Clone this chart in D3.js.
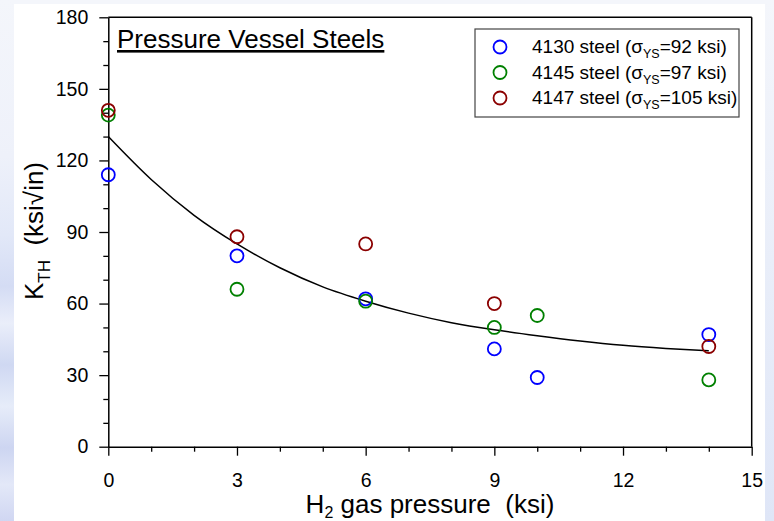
<!DOCTYPE html>
<html>
<head>
<meta charset="utf-8">
<script src="https://cdn.jsdelivr.net/npm/d3@7"></script>
<style>
  html, body { margin: 0; padding: 0; background: #f4f6fb; }
  svg { display: block; font-family: "Liberation Sans", Arial, sans-serif; }
  text { white-space: pre; }
</style>
</head>
<body>
<svg id="chart" width="774" height="521"></svg>
<script>
// ---- Data ----
const seriesNames = ["4130 steel", "4145 steel", "4147 steel"];
const seriesYield = ["92", "97", "105"];
const seriesColors = ["#0000ff", "#008000", "#8b0000"];

const steel4130X = [0, 3, 6, 9, 10, 14];
const steel4130Y = [114, 80, 62, 41, 29, 47];
const steel4145X = [0, 3, 6, 9, 10, 14];
const steel4145Y = [139, 66, 61, 50, 55, 28];
const steel4147X = [0, 3, 6, 9, 14];
const steel4147Y = [141, 88, 85, 60, 42];

// trend curve
const fitX = [0, 1, 2, 3, 4, 5, 6, 7, 8, 9, 10, 11, 12, 13, 14];
const fitY = [130, 112, 97, 85, 75, 67, 61, 56, 52, 49, 46.5, 44.3, 42.5, 41.2, 40.2];

const xTicks = [0, 3, 6, 9, 12, 15];
const xMinorTicks = [1, 2, 4, 5, 7, 8, 10, 11, 13, 14];
const yTicks = [0, 30, 60, 90, 120, 150, 180];
const yMinorTicks = [10, 20, 40, 50, 70, 80, 100, 110, 130, 140, 160, 170];

const titleText = "Pressure Vessel Steels";

// ---- Drawing ----
(function () {
const svg = d3.select("#chart");
const W = 774, H = 521;

// background decoration
const defs = svg.append("defs");
const lg = defs.append("linearGradient").attr("id", "leftStrip").attr("x1", 0).attr("y1", 0).attr("x2", 0).attr("y2", 1);
[["0", "#f4f6fb"], ["0.3", "#eef1fa"], ["0.45", "#e2e8f8"], ["0.55", "#d4dcf4"], ["0.62", "#eaeefa"],
 ["0.7", "#cfd8f2"], ["0.78", "#e6ecf9"], ["0.86", "#cdd5f1"], ["0.93", "#e3e8f8"], ["1", "#d0d6f2"]]
  .forEach(s => lg.append("stop").attr("offset", s[0]).attr("stop-color", s[1]));
const rg = defs.append("linearGradient").attr("id", "rightStrip").attr("x1", 0).attr("y1", 0).attr("x2", 0).attr("y2", 1);
[["0", "#f4f6fb"], ["0.5", "#e9eef9"], ["1", "#dfe6f7"]]
  .forEach(s => rg.append("stop").attr("offset", s[0]).attr("stop-color", s[1]));

svg.append("rect").attr("x", 0).attr("y", 0).attr("width", W).attr("height", H).attr("fill", "#f4f6fb");
svg.append("rect").attr("x", 0).attr("y", 0).attr("width", 14).attr("height", H).attr("fill", "url(#leftStrip)");
svg.append("rect").attr("x", 765).attr("y", 0).attr("width", 9).attr("height", H).attr("fill", "url(#rightStrip)");
svg.append("rect").attr("x", 14).attr("y", 4).attr("width", 751).attr("height", H - 4).attr("fill", "#ffffff");

const pl = 108.3, pr = 751.7, pt = 17.3, pb = 446.7;
const x = d3.scaleLinear().domain([0, 15]).range([pl, pr]);
const y = d3.scaleLinear().domain([0, 180]).range([pb, pt]);

// frame (top and right)
svg.append("line").attr("x1", pl).attr("x2", pr).attr("y1", pt).attr("y2", pt)
  .attr("stroke", "#000").attr("stroke-width", 1.5);
svg.append("line").attr("x1", pr).attr("x2", pr).attr("y1", pt).attr("y2", pb)
  .attr("stroke", "#000").attr("stroke-width", 1.5);

// x axis
const xAxis = svg.append("g").attr("transform", `translate(0,${pb})`)
  .call(d3.axisBottom(x).tickValues(xTicks).tickFormat(d3.format("d")).tickSize(9).tickPadding(17).tickSizeOuter(0));
const xMinor = svg.append("g").attr("transform", `translate(0,${pb})`)
  .call(d3.axisBottom(x).tickValues(xMinorTicks).tickFormat("").tickSize(5).tickSizeOuter(0));
xMinor.select(".domain").remove();

// y axis
const yAxis = svg.append("g").attr("transform", `translate(${pl},0)`)
  .call(d3.axisLeft(y).tickValues(yTicks).tickFormat(d3.format("d")).tickSize(9).tickPadding(11).tickSizeOuter(0));
const yMinor = svg.append("g").attr("transform", `translate(${pl},0)`)
  .call(d3.axisLeft(y).tickValues(yMinorTicks).tickFormat("").tickSize(5).tickSizeOuter(0));
yMinor.select(".domain").remove();

[xAxis, yAxis, xMinor, yMinor].forEach(g => {
  g.selectAll("path.domain").attr("stroke", "#000").attr("stroke-width", 1.5);
  g.selectAll(".tick line").attr("stroke", "#000").attr("stroke-width", 1.3);
  g.selectAll(".tick text").attr("fill", "#000").attr("font-size", 19.5)
    .attr("font-family", "'Liberation Sans', Arial, sans-serif");
});

// fit curve
const fitData = fitX.map((v, i) => [v, fitY[i]]);
svg.append("path").datum(fitData)
  .attr("fill", "none").attr("stroke", "#000").attr("stroke-width", 1.5)
  .attr("d", d3.line().x(d => x(d[0])).y(d => y(d[1])).curve(d3.curveMonotoneX));

// points
const allSeries = [
  { xs: steel4130X, ys: steel4130Y },
  { xs: steel4145X, ys: steel4145Y },
  { xs: steel4147X, ys: steel4147Y }
];
allSeries.forEach((s, si) => {
  svg.append("g").selectAll("circle").data(s.xs.map((v, i) => [v, s.ys[i]])).join("circle")
    .attr("cx", d => x(d[0])).attr("cy", d => y(d[1])).attr("r", 6.5)
    .attr("fill", "none").attr("stroke", seriesColors[si]).attr("stroke-width", 1.8);
});

// title
svg.append("text").attr("x", 117).attr("y", 48).attr("font-size", 26)
  .attr("text-decoration", "underline").attr("fill", "#000").text(titleText);

// legend
const legX = 475, legY = 29, legW = 264, legH = 88;
svg.append("rect").attr("x", legX).attr("y", legY).attr("width", legW).attr("height", legH)
  .attr("fill", "#fff").attr("stroke", "#444").attr("stroke-width", 1.2);
seriesNames.forEach((name, i) => {
  const cy = 47 + i * 25.5;
  svg.append("circle").attr("cx", 500).attr("cy", cy).attr("r", 6.5)
    .attr("fill", "none").attr("stroke", seriesColors[i]).attr("stroke-width", 1.8);
  const t = svg.append("text").attr("x", 532).attr("y", cy + 6).attr("font-size", 19).attr("fill", "#000");
  t.append("tspan").text(name + " (\u03C3");
  t.append("tspan").attr("font-size", 12.5).attr("dy", 5).text("YS");
  t.append("tspan").attr("dy", -5).text("=" + seriesYield[i] + " ksi)");
});

// axis titles
const xt = svg.append("text").attr("x", (pl + pr) / 2).attr("y", 513)
  .attr("text-anchor", "middle").attr("font-size", 26).attr("fill", "#000");
xt.append("tspan").text("H");
xt.append("tspan").attr("font-size", 16).attr("dy", 5).text("2");
xt.append("tspan").attr("dy", -5).text(" gas pressure  (ksi)");

const yt = svg.append("text").attr("transform", "translate(43,231) rotate(-90)")
  .attr("text-anchor", "middle").attr("font-size", 26).attr("fill", "#000");
yt.append("tspan").text("K");
yt.append("tspan").attr("font-size", 17).attr("dy", 7).text("TH");
yt.append("tspan").attr("dy", -7).text("  (ksi\u221Ain)");
})();
</script>
</body>
</html>
